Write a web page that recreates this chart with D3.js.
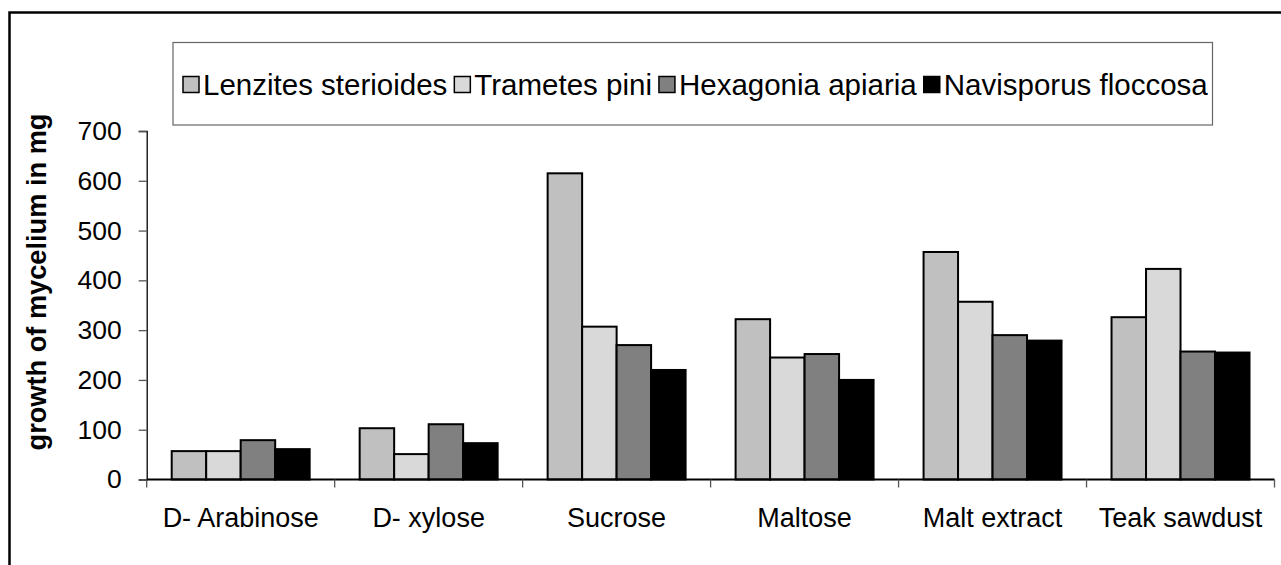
<!DOCTYPE html>
<html>
<head>
<meta charset="utf-8">
<script src="https://cdn.jsdelivr.net/npm/d3@7"></script>
<style>
  body { margin: 0; background: #fff; }
  svg { display: block; font-family: "Liberation Sans", Arial, sans-serif; }
</style>
</head>
<body>
<svg id="chart"></svg>
<script>
// Chart data
const categories = ["D- Arabinose", "D- xylose", "Sucrose", "Maltose", "Malt extract", "Teak sawdust"];
const seriesNames = ["Lenzites sterioides", "Trametes pini", "Hexagonia apiaria", "Navisporus floccosa"];
const lenzites = [57, 103, 615, 322, 457, 326];
const trametes = [57, 51, 307, 245, 357, 423];
const hexagonia = [79, 111, 270, 252, 290, 257];
const navisporus = [61, 73, 220, 200, 279, 255];
const yTicks = [0, 100, 200, 300, 400, 500, 600, 700];

const seriesValues = [lenzites, trametes, hexagonia, navisporus];
const colors = ["#c0c0c0", "#d9d9d9", "#808080", "#000000"];

const W = 1281, H = 565;
const svg = d3.select("#chart").attr("width", W).attr("height", H);

// outer frame (only top and left edges fall inside the window)
svg.append("rect")
    .attr("x", 9.5).attr("y", 12.5)
    .attr("width", 1400).attr("height", 800)
    .attr("fill", "none")
    .attr("stroke", "#000")
    .attr("stroke-width", 2.5);

// scales
const x0 = d3.scaleBand()
    .domain(categories)
    .range([146.7, 1274.5])
    .padding(0);

const x1 = d3.scaleBand()
    .domain(seriesNames)
    .range([25, x0.bandwidth() - 25])
    .padding(0);

const y = d3.scaleLinear()
    .domain([0, 700])
    .range([479.5, 131]);

// y axis
const yAxis = svg.append("g")
    .attr("transform", "translate(146.7,0)")
    .call(d3.axisLeft(y).tickValues(yTicks).tickSize(8).tickPadding(17));
yAxis.select(".domain").attr("stroke", "#000").attr("stroke-width", 1.3);
yAxis.selectAll(".tick line").attr("stroke", "#555").attr("stroke-width", 1.3);
yAxis.selectAll(".tick text")
    .attr("font-size", 26.5)
    .attr("fill", "#000")
    .attr("font-family", "Liberation Sans, Arial, sans-serif");

// bars
const groups = svg.selectAll(".group")
    .data(categories)
    .enter().append("g")
    .attr("class", "group")
    .attr("transform", d => `translate(${x0(d)},0)`);

groups.selectAll("rect")
    .data((d, i) => seriesNames.map((s, j) => ({ series: s, value: seriesValues[j][i], color: colors[j] })))
    .enter().append("rect")
    .attr("x", d => x1(d.series))
    .attr("y", d => y(d.value))
    .attr("width", x1.bandwidth())
    .attr("height", d => y(0) - y(d.value))
    .attr("fill", d => d.color)
    .attr("stroke", "#000")
    .attr("stroke-width", 2);

// x axis
const xAxis = svg.append("g")
    .attr("transform", `translate(0,${y(0)})`);
xAxis.append("line")
    .attr("x1", 146.7).attr("x2", 1274.5)
    .attr("y1", 0).attr("y2", 0)
    .attr("stroke", "#000").attr("stroke-width", 2);
const bounds = categories.map(c => x0(c)).concat([x0(categories[categories.length - 1]) + x0.bandwidth()]);
xAxis.selectAll(".xtick")
    .data(bounds)
    .enter().append("line")
    .attr("class", "xtick")
    .attr("x1", d => d).attr("x2", d => d)
    .attr("y1", 0).attr("y2", 8)
    .attr("stroke", "#555").attr("stroke-width", 1.3);
xAxis.selectAll(".xlabel")
    .data(categories)
    .enter().append("text")
    .attr("class", "xlabel")
    .attr("x", d => x0(d) + x0.bandwidth() / 2)
    .attr("y", 47.5)
    .attr("text-anchor", "middle")
    .attr("font-size", 27)
    .text(d => d);

// y axis title
svg.append("text")
    .attr("transform", "translate(46,282) rotate(-90)")
    .attr("text-anchor", "middle")
    .attr("font-size", 27.2)
    .attr("font-weight", "bold")
    .text("growth of mycelium in mg");

// legend
svg.append("rect")
    .attr("x", 173).attr("y", 42.5)
    .attr("width", 1039.5).attr("height", 82.5)
    .attr("fill", "#fff")
    .attr("stroke", "#666")
    .attr("stroke-width", 1.2);

const legend = svg.append("g");
let lx = 183;
seriesNames.forEach((name, i) => {
    legend.append("rect")
        .attr("x", lx).attr("y", 76.5)
        .attr("width", 16).attr("height", 16)
        .attr("fill", colors[i])
        .attr("stroke", "#000")
        .attr("stroke-width", 1.5);
    const t = legend.append("text")
        .attr("x", lx + 20)
        .attr("y", 94.8)
        .attr("font-size", 29.5)
        .text(name);
    lx = lx + 20 + t.node().getComputedTextLength() + 7;
});
</script>
</body>
</html>
